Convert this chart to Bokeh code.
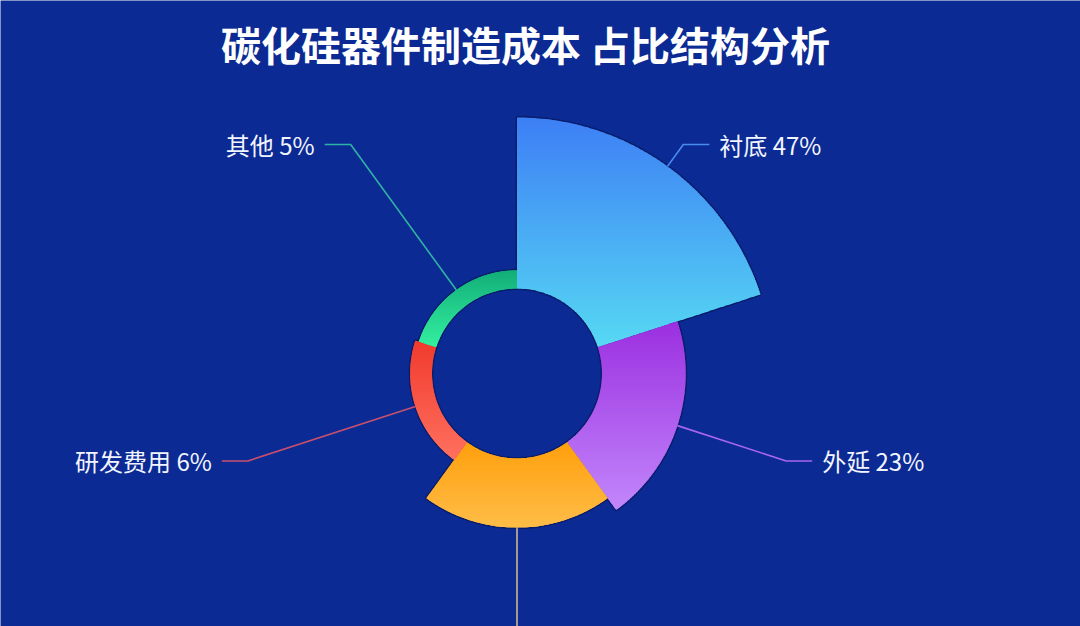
import math
from bokeh.plotting import figure
from bokeh.models import ColumnDataSource, Range1d
from bokeh.core.properties import value
from bokeh.embed import file_html
from bokeh.resources import INLINE

# ---------------- data ----------------
title_text = "碳化硅器件制造成本 占比结构分析"
categories = ["衬底", "外延", "前段", "研发费用", "其他"]
shares = [47, 23, 19, 6, 5]
top_colors = ["#3d7ff5", "#9b2fe0", "#ff9f0c", "#f03a2e", "#12ad78"]
bottom_colors = ["#56d8f3", "#c286fb", "#ffbd48", "#ff705e", "#34f0a0"]
line_colors = ["#4a8df0", "#a866ee", "#cdb596", "#c8506e", "#2fb3a4"]

# ---------------- style / layout ----------------
BG = "#0b2a94"
W, H = 1080, 626
CX, CY = 516.5, 253.0          # centre in data units (1 unit = 1 px)
R_IN, R_MAX = 85.0, 256.0
LABEL_R = 283.0
H_LEN, GAP = 26.0, 10.0
FONT = "Noto Sans CJK SC"

n = len(categories)
step = 360.0 / n
vmax = max(shares)


def hex2rgb(h):
    h = h.lstrip("#")
    return tuple(int(h[i:i + 2], 16) for i in (0, 2, 4))


def lerp_col(c0, c1, t):
    a, b = hex2rgb(c0), hex2rgb(c1)
    return "#%02x%02x%02x" % tuple(int(round(a[k] + (b[k] - a[k]) * t)) for k in range(3))


def sector_poly(r0, r1, a0, a1, m=90):
    pts = []
    for k in range(m + 1):
        a = math.radians(a0 + (a1 - a0) * k / m)
        pts.append((CX + r1 * math.cos(a), CY + r1 * math.sin(a)))
    for k in range(m + 1):
        a = math.radians(a1 + (a0 - a1) * k / m)
        pts.append((CX + r0 * math.cos(a), CY + r0 * math.sin(a)))
    return pts


def clip_half(pts, yc, above):
    out = []
    for i in range(len(pts)):
        cur, prev = pts[i], pts[i - 1]
        cin = cur[1] >= yc if above else cur[1] <= yc
        pin = prev[1] >= yc if above else prev[1] <= yc
        if cin != pin:
            t = (yc - prev[1]) / (cur[1] - prev[1])
            out.append((prev[0] + (cur[0] - prev[0]) * t, yc))
        if cin:
            out.append(cur)
    return out


p = figure(width=W, height=H, output_backend="svg", toolbar_location=None,
           x_range=Range1d(0, W), y_range=Range1d(0, H), min_border=0)
p.axis.visible = False
p.grid.visible = False
p.outline_line_color = None
p.background_fill_color = BG
p.border_fill_color = BG

outline_xs, outline_ys = [], []
band_xs, band_ys, band_cols = [], [], []
NB = 90
OV = 0.6
for i, v in enumerate(shares):
    a0 = 90.0 - i * step
    a1 = a0 - step
    r_out = R_IN + (R_MAX - R_IN) * v / vmax
    poly = sector_poly(R_IN, r_out, a0, a1)
    outline_xs.append([q[0] for q in poly])
    outline_ys.append([q[1] for q in poly])
    ys_ = [q[1] for q in poly]
    ymin, ymax = min(ys_), max(ys_)
    for b in range(NB):
        yt = ymax - (ymax - ymin) * b / NB + OV
        yb = ymax - (ymax - ymin) * (b + 1) / NB - OV
        piece = clip_half(clip_half(poly, yb, True), yt, False)
        if len(piece) < 3:
            continue
        band_xs.append([q[0] for q in piece])
        band_ys.append([q[1] for q in piece])
        band_cols.append(lerp_col(top_colors[i], bottom_colors[i], (b + 0.5) / NB))

# soft shadow outline
p.patches(outline_xs, outline_ys, fill_color=None, line_color="#040d3c",
          line_alpha=0.45, line_width=3)
src = ColumnDataSource(dict(xs=band_xs, ys=band_ys, c=band_cols))
p.patches("xs", "ys", source=src, fill_color="c", line_color=None)

# label lines and labels
lx, ly = [], []
rt = dict(x=[], y=[], t=[])
lt = dict(x=[], y=[], t=[])
for i, (cat, v) in enumerate(zip(categories, shares)):
    mid = 90.0 - (i + 0.5) * step
    a = math.radians(mid)
    r_out = R_IN + (R_MAX - R_IN) * v / vmax
    x0, y0 = CX + r_out * math.cos(a), CY + r_out * math.sin(a)
    x1, y1 = CX + LABEL_R * math.cos(a), CY + LABEL_R * math.sin(a)
    sgn = 1 if math.cos(a) > 1e-9 else -1
    x2 = x1 + sgn * H_LEN
    lx.append([x0, x1, x2])
    ly.append([y0, y1, y1])
    if y1 < 12:      # label falls below the visible canvas (as in the source image)
        continue
    d = rt if sgn > 0 else lt
    d["x"].append(x2 + sgn * GAP)
    d["y"].append(y1)
    d["t"].append(f"{cat} {v}%")

p.multi_line(lx, ly, line_color=line_colors, line_width=1.6)
p.text("x", "y", "t", source=ColumnDataSource(rt), text_align="left", text_baseline="middle",
       text_color="#f2f5ff", text_font=value(FONT), text_font_size="24px")
p.text("x", "y", "t", source=ColumnDataSource(lt), text_align="right", text_baseline="middle",
       text_color="#f2f5ff", text_font=value(FONT), text_font_size="24px")

p.text(x=[525], y=[H - 43], text=[title_text], text_align="center", text_baseline="middle",
       text_color="#ffffff", text_font=value(FONT), text_font_size="40px", text_font_style="bold")

html = file_html(p, INLINE)
html = html.replace("<body>", '<body style="background:%s">' % BG, 1)
open("out.html", "w").write(html)
